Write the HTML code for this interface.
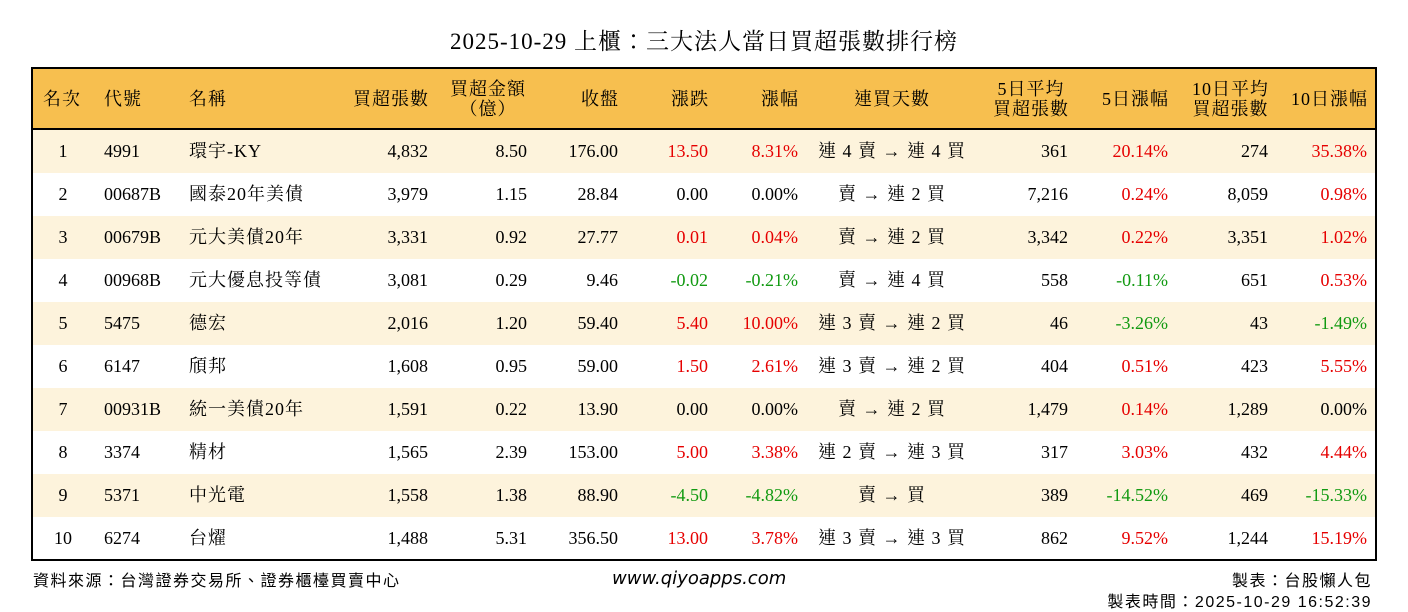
<!DOCTYPE html>
<html><head><meta charset="utf-8"><style>
body{margin:0;width:1408px;height:612px;background:#fff;position:relative;font-family:"Liberation Serif","Noto Serif CJK TC","Noto Serif CJK SC",serif;font-size:18px;color:#000;overflow:hidden}
.t{position:absolute;white-space:nowrap}
.title{left:0;width:1408px;text-align:center;top:29px;font-size:23px;line-height:26px;letter-spacing:1px}
.box{position:absolute;left:31px;top:67px;width:1342px;height:490px;border:2px solid #000;overflow:hidden}
.hd{position:absolute;left:0;top:0;width:1342px;height:59px;background:#f7bf4f;border-bottom:2px solid #000}
.row{position:absolute;left:0;width:1342px;height:43px}
.c{position:absolute;top:11px;line-height:20px;white-space:nowrap}
.k{letter-spacing:1px}
.r{color:#e60000}.g{color:#129a12}
.h{position:absolute;white-space:nowrap;line-height:20px;letter-spacing:1px}
.foot{font-family:"Liberation Sans","Noto Sans CJK TC",sans-serif;font-size:16px;letter-spacing:1.5px}
</style></head><body>
<div class="t title">2025-10-29 上櫃：三大法人當日買超張數排行榜</div>
<div class="box">
<div class="hd">
<span class="h" style="left:10px;top:20px">名次</span>
<span class="h" style="left:71px;top:20px">代號</span>
<span class="h" style="left:156px;top:20px">名稱</span>
<span class="h" style="right:946px;top:20px">買超張數</span>
<span class="h" style="left:405px;top:10px;width:100px;text-align:center">買超金額<br>（億）</span>
<span class="h" style="right:756px;top:20px">收盤</span>
<span class="h" style="right:666px;top:20px">漲跌</span>
<span class="h" style="right:576px;top:20px">漲幅</span>
<span class="h" style="left:799px;top:20px;width:120px;text-align:center">連買天數</span>
<span class="h" style="right:306px;top:10px;text-align:center">5日平均<br>買超張數</span>
<span class="h" style="right:206px;top:20px">5日漲幅</span>
<span class="h" style="right:106px;top:10px;text-align:center">10日平均<br>買超張數</span>
<span class="h" style="right:7px;top:20px">10日漲幅</span>
</div>
<div id="rows"></div>
</div>
<div class="t foot" style="left:33px;top:567px">資料來源：台灣證券交易所、證券櫃檯買賣中心</div>
<div class="t" style="left:612px;top:568px;font-family:'DejaVu Sans',sans-serif;font-style:italic;font-size:18px">www.qiyoapps.com</div>
<div class="t foot" style="right:36px;top:567px">製表：台股懶人包</div>
<div class="t foot" style="right:36px;top:588px">製表時間：2025-10-29 16:52:39</div>
<script>
var d=[
["1","4991","環宇-KY","4,832","8.50","176.00","13.50","8.31%","連 4 賣 → 連 4 買","361","20.14%","274","35.38%"],
["2","00687B","國泰20年美債","3,979","1.15","28.84","0.00","0.00%","賣 → 連 2 買","7,216","0.24%","8,059","0.98%"],
["3","00679B","元大美債20年","3,331","0.92","27.77","0.01","0.04%","賣 → 連 2 買","3,342","0.22%","3,351","1.02%"],
["4","00968B","元大優息投等債","3,081","0.29","9.46","-0.02","-0.21%","賣 → 連 4 買","558","-0.11%","651","0.53%"],
["5","5475","德宏","2,016","1.20","59.40","5.40","10.00%","連 3 賣 → 連 2 買","46","-3.26%","43","-1.49%"],
["6","6147","頎邦","1,608","0.95","59.00","1.50","2.61%","連 3 賣 → 連 2 買","404","0.51%","423","5.55%"],
["7","00931B","統一美債20年","1,591","0.22","13.90","0.00","0.00%","賣 → 連 2 買","1,479","0.14%","1,289","0.00%"],
["8","3374","精材","1,565","2.39","153.00","5.00","3.38%","連 2 賣 → 連 3 買","317","3.03%","432","4.44%"],
["9","5371","中光電","1,558","1.38","88.90","-4.50","-4.82%","賣 → 買","389","-14.52%","469","-15.33%"],
["10","6274","台燿","1,488","5.31","356.50","13.00","3.78%","連 3 賣 → 連 3 買","862","9.52%","1,244","15.19%"]];
function col(v){if(v.indexOf('-')==0)return 'g';if(parseFloat(v)>0)return 'r';return '';}
var h='';
d.forEach(function(r,i){
h+='<div class="row" style="top:'+(61+i*43)+'px;background:'+(i%2==0?'#fdf3dc':'#fff')+'">';
h+='<span class="c" style="left:0;width:60px;text-align:center">'+r[0]+'</span>';
h+='<span class="c" style="left:71px">'+r[1]+'</span>';
h+='<span class="c k" style="left:156px">'+r[2]+'</span>';
h+='<span class="c" style="right:947px">'+r[3]+'</span>';
h+='<span class="c" style="right:848px">'+r[4]+'</span>';
h+='<span class="c" style="right:757px">'+r[5]+'</span>';
h+='<span class="c '+col(r[6])+'" style="right:667px">'+r[6]+'</span>';
h+='<span class="c '+col(r[7])+'" style="right:577px">'+r[7]+'</span>';
h+='<span class="c k" style="left:759px;width:200px;text-align:center">'+r[8]+'</span>';
h+='<span class="c" style="right:307px">'+r[9]+'</span>';
h+='<span class="c '+col(r[10])+'" style="right:207px">'+r[10]+'</span>';
h+='<span class="c" style="right:107px">'+r[11]+'</span>';
h+='<span class="c '+col(r[12])+'" style="right:8px">'+r[12]+'</span>';
h+='</div>';});
document.getElementById('rows').innerHTML=h;
</script>
</body></html>
